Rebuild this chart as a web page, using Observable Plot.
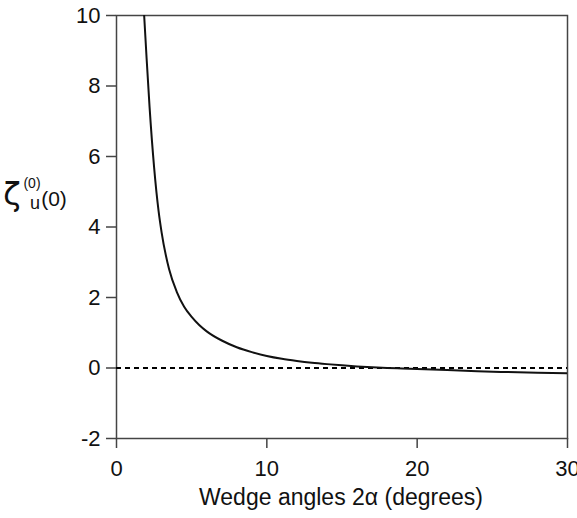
<!DOCTYPE html>
<html>
<head>
<meta charset="utf-8">
<script src="https://cdn.jsdelivr.net/npm/d3@7"></script>
<script src="https://cdn.jsdelivr.net/npm/@observablehq/plot@0.6"></script>
<style>
  html, body { margin: 0; padding: 0; background: white; }
</style>
</head>
<body>
<div id="chart"></div>
<script>
// Wedge angle 2α (degrees)
const angles = [1.84, 2.0, 2.2, 2.5, 2.8, 3.0, 3.5, 4.0, 4.5, 5.0, 5.5, 6.0, 7.0, 8.0, 9.0, 10, 11, 12, 13, 14, 15, 16, 17, 18, 19, 20, 22, 24, 26, 28, 30];
// ζ_u^(0)(0)
const zeta = [10.0, 8.8, 7.4, 5.7, 4.45, 3.85, 2.8, 2.17, 1.74, 1.45, 1.22, 1.04, 0.78, 0.59, 0.45, 0.34, 0.26, 0.2, 0.15, 0.11, 0.075, 0.045, 0.02, 0.0, -0.015, -0.03, -0.06, -0.09, -0.115, -0.135, -0.15];
const xTicks = [0, 10, 20, 30];
const yTicks = [-2, 0, 2, 4, 6, 8, 10];
const refLine = [0];

const data = angles.map((a, i) => ({a, z: zeta[i]}));

const chart = Plot.plot({
  width: 577,
  height: 518,
  marginLeft: 116,
  marginRight: 10,
  marginTop: 15,
  marginBottom: 80,
  style: {fontFamily: "'Liberation Sans', Arial, Helvetica, sans-serif", fontSize: "22px", color: "#111", background: "white"},
  x: {domain: [0, 30]},
  y: {domain: [-2, 10]},
  marks: [
    Plot.frame({stroke: "#444", strokeWidth: 1.5}),
    Plot.axisX({ticks: xTicks, tickFormat: d => String(d), tickSize: 10, tickPadding: 12, stroke: "#444", strokeWidth: 1.5, strokeOpacity: 1,
      label: null}),
    Plot.axisY({ticks: yTicks, tickFormat: d => String(d), tickSize: 10, tickPadding: 6, stroke: "#444", strokeWidth: 1.5, strokeOpacity: 1, label: null}),
    Plot.ruleY(refLine, {stroke: "#000", strokeWidth: 2, strokeDasharray: "5,4"}),
    Plot.line(data, {x: "a", y: "z", curve: "monotone-x", stroke: "#111", strokeWidth: 2, clip: true})
  ]
});

const svg = d3.select(chart);
const g = svg.append("g").attr("fill", "#111").attr("font-family", "'DejaVu Sans', 'Liberation Sans', Arial, sans-serif");
g.append("text").attr("x", 12).attr("y", 205).attr("font-size", 32).text("ζ");
g.append("text").attr("x", 32).attr("y", 188).attr("font-size", 14).attr("font-family", "'Liberation Sans', Arial, sans-serif").text("(0)");
g.append("text").attr("x", 35).attr("y", 209).attr("font-size", 18).attr("font-family", "'Liberation Sans', Arial, sans-serif").text("u");
g.append("text").attr("x", 54).attr("y", 206).attr("font-size", 21).attr("font-family", "'Liberation Sans', Arial, sans-serif").text("(0)");
svg.append("text").attr("x", 341).attr("y", 505).attr("text-anchor", "middle").attr("font-size", 23)
  .attr("fill", "#111").attr("font-family", "'Liberation Sans', Arial, sans-serif").text("Wedge angles 2α (degrees)");

document.getElementById("chart").appendChild(chart);
</script>
</body>
</html>
